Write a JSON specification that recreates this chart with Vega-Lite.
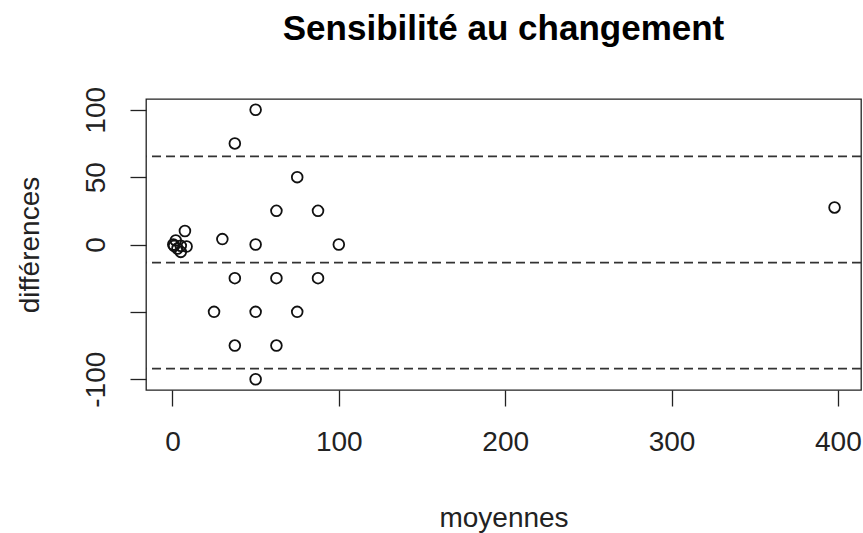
{
  "$schema": "https://vega.github.io/schema/vega-lite/v6.json",
  "width": 715,
  "height": 291,
  "autosize": "none",
  "padding": {"left": 146, "top": 99, "right": 2, "bottom": 143},
  "background": "white",
  "title": {"text": "Sensibilité au changement", "font": "Liberation Sans", "fontSize": 35, "fontWeight": "bold", "color": "black", "anchor": "middle", "frame": "group", "offset": 39},
  "config": {
    "view": {"stroke": "#222", "strokeWidth": 1.3},
    "axis": {"grid": false, "domain": false, "tickColor": "#222", "tickWidth": 1.3, "tickSize": 16, "labelFont": "Liberation Sans", "labelFontSize": 28, "labelColor": "#222", "titleFont": "Liberation Sans", "titleFontSize": 28, "titleFontWeight": "normal", "titleColor": "#222", "labelOverlap": false}
  },
  "datasets": {
    "pts": [
      {"moyenne": 0.5, "difference": 0},
      {"moyenne": 2, "difference": 3},
      {"moyenne": 1, "difference": -1},
      {"moyenne": 5, "difference": -1},
      {"moyenne": 3, "difference": -3},
      {"moyenne": 5, "difference": -5.5},
      {"moyenne": 8.5, "difference": -1.5},
      {"moyenne": 7.5, "difference": 10},
      {"moyenne": 30, "difference": 4},
      {"moyenne": 50, "difference": 100},
      {"moyenne": 37.5, "difference": 75},
      {"moyenne": 75, "difference": 50},
      {"moyenne": 62.5, "difference": 25},
      {"moyenne": 87.5, "difference": 25},
      {"moyenne": 50, "difference": 0},
      {"moyenne": 100, "difference": 0},
      {"moyenne": 37.5, "difference": -25},
      {"moyenne": 62.5, "difference": -25},
      {"moyenne": 87.5, "difference": -25},
      {"moyenne": 25, "difference": -50},
      {"moyenne": 50, "difference": -50},
      {"moyenne": 75, "difference": -50},
      {"moyenne": 37.5, "difference": -75},
      {"moyenne": 62.5, "difference": -75},
      {"moyenne": 50, "difference": -100},
      {"moyenne": 398, "difference": 27.5}
    ],
    "lignes": [
      {"niveau": 65.4},
      {"niveau": -13.4},
      {"niveau": -92.2}
    ]
  },
  "layer": [
    {
      "data": {"name": "lignes"},
      "mark": {"type": "rule", "stroke": "#333", "strokeWidth": 1.8, "strokeDash": [9, 5]},
      "encoding": {
        "y": {"field": "niveau", "type": "quantitative", "scale": {"domain": [-108, 108], "nice": false, "zero": false}}
      }
    },
    {
      "data": {"name": "pts"},
      "mark": {"type": "point", "shape": "circle", "filled": false, "stroke": "#111", "strokeWidth": 1.8, "size": 115, "opacity": 1},
      "encoding": {
        "x": {"field": "moyenne", "type": "quantitative", "scale": {"domain": [-15.9, 413.9], "nice": false, "zero": false},
              "axis": {"values": [0, 100, 200, 300, 400], "title": "moyennes", "labelBaseline": "middle", "labelPadding": 36, "titleX": 357.5, "titleY": 128, "titleBaseline": "middle", "titleAlign": "center"}},
        "y": {"field": "difference", "type": "quantitative", "scale": {"domain": [-108, 108], "nice": false, "zero": false},
              "axis": {"values": [-100, -50, 0, 50, 100], "title": "différences", "labelAngle": -90, "labelAlign": "center", "labelBaseline": "bottom", "labelPadding": 20, "labelExpr": "datum.value == -50 ? '' : '' + datum.value", "titleX": -116, "titleY": 145.5, "titleAngle": -90, "titleBaseline": "middle", "titleAlign": "center"}}
      }
    }
  ]
}
